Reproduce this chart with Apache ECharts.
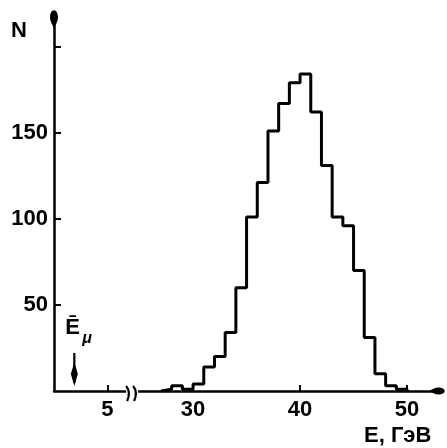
<!DOCTYPE html>
<html><head><meta charset="utf-8">
<script src="https://cdn.jsdelivr.net/npm/echarts@6/dist/echarts.min.js"></script>
<style>html,body{margin:0;padding:0;background:#fff}#c{width:447px;height:448px}</style>
</head><body><div id="c"></div>
<script>
// ---- data (GeV, counts) ----
const binStarts = [27,28,29,30,31,32,33,34,35,36,37,38,39,40,41,42,43,44,45,46,47,48,49];
const counts    = [1, 3, 1, 4, 14,20,34,60,101,121,151,167,179,184,162,131,101,96,70,31,10,3,1];
const binWidth = 1;
const xTickValues = [5, 30, 40, 50];
const yTickValues = [50, 100, 150, 200];
const yLabelValues = [50, 100, 150];
const meanMuonEnergy = 1.9;   // Ē_μ marker position (GeV)
const breakShift = 17;        // axis break: 5..27 GeV compressed
const breakAt = 7.3;          // break mark position (display units)

const FONT = '"Liberation Sans Narrow","Liberation Sans",Arial,sans-serif';
const toD = v => v < 15 ? v : v - breakShift;
const fromD = d => d < 10 ? d : d + breakShift;

const histPts = [[toD(binStarts[0]), 0]];
binStarts.forEach((s, i) => histPts.push([toD(s), counts[i]]));
histPts.push([toD(binStarts[binStarts.length - 1] + binWidth), 0]);

const arrowPath = 'path://M5,0 C8,0 10,4 10,9 C10,14 7,18 5,22 C3,18 0,14 0,9 C0,4 2,0 5,0 Z';

const chart = echarts.init(document.getElementById('c'));
chart.setOption({
  backgroundColor: '#fff',
  animation: false,
  grid: {left: 54, top: 19, width: 383, height: 372},
  xAxis: {
    type: 'value', min: 0, max: 35.8,
    axisLine: {show: true, lineStyle: {color: '#000', width: 2.5},
      symbol: ['none', arrowPath], symbolSize: [7, 16], symbolOffset: [0, 0]},
    axisTick: {show: true, inside: true, length: 6, lineStyle: {color: '#000', width: 2},
      customValues: xTickValues.map(toD)},
    axisLabel: {customValues: xTickValues.map(toD), margin: 8,
      formatter: v => String(Math.round(fromD(v))),
      color: '#000', fontFamily: FONT, fontWeight: 'bold', fontSize: 22},
    splitLine: {show: false}
  },
  yAxis: {
    type: 'value', min: 0, max: 216,
    axisLine: {show: true, lineStyle: {color: '#000', width: 2.5},
      symbol: ['none', arrowPath], symbolSize: [8, 18]},
    axisTick: {show: true, inside: true, length: 7, lineStyle: {color: '#000', width: 2},
      customValues: yTickValues},
    axisLabel: {customValues: yLabelValues, margin: 6,
      color: '#000', fontFamily: FONT, fontWeight: 'bold', fontSize: 22},
    splitLine: {show: false}
  },
  graphic: [
    {type: 'text', left: 11, top: 20, style: {text: 'N', fill: '#000', font: 'bold 22px ' + FONT}},
    {type: 'text', left: 364, top: 425, style: {text: 'E, ГэВ', fill: '#000', font: 'bold 22px ' + FONT}}
  ],
  series: [
    {
      type: 'line', step: 'end', data: histPts, symbol: 'none',
      lineStyle: {color: '#000', width: 3}, z: 3
    },
    {
      type: 'custom', data: [[breakAt, 0]], z: 4,
      renderItem: (params, api) => {
        const p = api.coord([api.value(0), api.value(1)]);
        return {type: 'group', children: [
          {type: 'rect', shape: {x: p[0] - 6, y: p[1] - 3, width: 12, height: 6}, style: {fill: '#fff'}},
          {type: 'bezierCurve', shape: {x1: p[0] - 6, y1: p[1] - 5, cpx1: p[0] - 1, cpy1: p[1] + 1, x2: p[0] - 5, y2: p[1] + 10},
            style: {stroke: '#000', lineWidth: 2.2, fill: null}},
          {type: 'bezierCurve', shape: {x1: p[0] + 1, y1: p[1] - 5, cpx1: p[0] + 6, cpy1: p[1] + 1, x2: p[0] + 2, y2: p[1] + 10},
            style: {stroke: '#000', lineWidth: 2.2, fill: null}}
        ]};
      }
    },
    {
      type: 'custom', data: [[meanMuonEnergy, 0]], z: 4,
      renderItem: (params, api) => {
        const p = api.coord([api.value(0), api.value(1)]);
        const x = p[0], y = p[1];
        return {type: 'group', children: [
          {type: 'line', shape: {x1: x, y1: y - 38, x2: x, y2: y - 8}, style: {stroke: '#000', lineWidth: 2.2}},
          {type: 'polygon', shape: {points: [[x, y - 29], [x + 3.5, y - 17], [x, y - 5], [x - 3.5, y - 17]]}, style: {fill: '#000'}},
          {type: 'text', x: x - 9, y: y - 74, style: {text: 'Ē', fill: '#000', font: 'bold 22px ' + FONT}},
          {type: 'text', x: x + 8, y: y - 60, style: {text: 'μ', fill: '#000', font: 'italic bold 16px ' + FONT}}
        ]};
      }
    }
  ]
});
</script>
</body></html>
